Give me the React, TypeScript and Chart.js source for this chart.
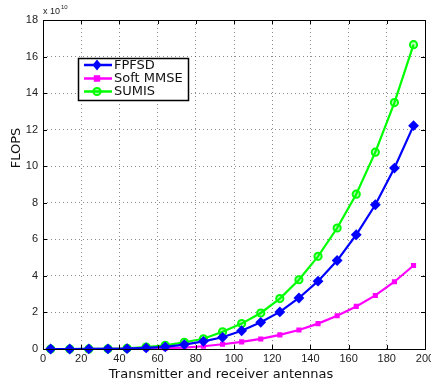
import React, { useEffect, useRef } from "react";
import { Chart, registerables } from "chart.js";

Chart.register(...registerables);

const antennas = [4, 14, 24, 34, 44, 54, 64, 74, 84, 94, 104, 114, 124, 134, 144, 154, 164, 174, 184, 194];
const fpfsd = [0, 0, 0.005, 0.01, 0.02, 0.06, 0.12, 0.24, 0.42, 0.64, 1.0, 1.46, 2.03, 2.79, 3.71, 4.84, 6.25, 7.89, 9.9, 12.22];
const softMmse = [0, 0, 0, 0.005, 0.01, 0.02, 0.04, 0.08, 0.15, 0.26, 0.39, 0.55, 0.77, 1.04, 1.39, 1.82, 2.33, 2.93, 3.68, 4.57];
const sumis = [0, 0, 0.005, 0.01, 0.04, 0.11, 0.2, 0.37, 0.56, 0.94, 1.39, 1.97, 2.76, 3.79, 5.07, 6.62, 8.47, 10.77, 13.48, 16.65];
const seriesNames = ["FPFSD", "Soft MMSE", "SUMIS"];
const xTicks = [0, 20, 40, 60, 80, 100, 120, 140, 160, 180, 200];
const yTicks = [0, 2, 4, 6, 8, 10, 12, 14, 16, 18];
const xTitle = "Transmitter and receiver antennas";
const yTitle = "FLOPS";

const colors = ["#0000ff", "#ff00ff", "#00ff00"];
const pointStyles = ["rectRot", "rect", "circle"];
const pointRadii = [4, 2.2, 3.6];
const fills = ["#0000ff", "#ff00ff", "rgba(0,255,0,0.3)"];

function drawMarker(ctx: CanvasRenderingContext2D, style: string, r: number, x: number, y: number) {
  ctx.beginPath();
  if (style === "rectRot") {
    ctx.moveTo(x, y - r);
    ctx.lineTo(x + r * 0.8, y);
    ctx.lineTo(x, y + r);
    ctx.lineTo(x - r * 0.8, y);
    ctx.closePath();
  } else if (style === "rect") {
    ctx.rect(x - r, y - r, 2 * r, 2 * r);
  } else {
    ctx.arc(x, y, r, 0, Math.PI * 2);
  }
  ctx.fill();
  ctx.stroke();
}

const decorPlugin = {
  id: "decor",
  afterDraw(chart: any) {
    const { ctx, chartArea: a, scales } = chart;
    const xs = scales.x;
    const ys = scales.y;
    ctx.save();
    ctx.strokeStyle = "#000";
    ctx.lineWidth = 1;
    ctx.setLineDash([]);
    ctx.strokeRect(Math.round(a.left) + 0.5, Math.round(a.top) + 0.5, Math.round(a.right - a.left), Math.round(a.bottom - a.top));
    ctx.beginPath();
    xTicks.forEach((v) => {
      const px = Math.round(xs.getPixelForValue(v)) + 0.5;
      ctx.moveTo(px, a.bottom);
      ctx.lineTo(px, a.bottom - 4);
      ctx.moveTo(px, a.top);
      ctx.lineTo(px, a.top + 4);
    });
    yTicks.forEach((v) => {
      const py = Math.round(ys.getPixelForValue(v)) + 0.5;
      ctx.moveTo(a.left, py);
      ctx.lineTo(a.left + 4, py);
      ctx.moveTo(a.right, py);
      ctx.lineTo(a.right - 4, py);
    });
    ctx.stroke();

    ctx.fillStyle = "#222";
    ctx.textBaseline = "alphabetic";
    ctx.textAlign = "left";
    ctx.font = "9px 'Liberation Sans', Arial, sans-serif";
    ctx.fillText("x 10", a.left, 14);
    const w = ctx.measureText("x 10").width;
    ctx.font = "6px 'Liberation Sans', Arial, sans-serif";
    ctx.fillText("10", a.left + w + 1, 9);

    ctx.fillStyle = "#111";
    ctx.font = "13px 'DejaVu Sans', sans-serif";
    ctx.textAlign = "center";
    ctx.textBaseline = "middle";
    ctx.fillText(xTitle, 221, 375);
    ctx.save();
    ctx.translate(17, 148);
    ctx.rotate(-Math.PI / 2);
    ctx.fillText(yTitle, 0, 0);
    ctx.restore();

    const lx = 78, ly = 58, lw = 110, lh = 42;
    ctx.fillStyle = "#fff";
    ctx.fillRect(lx, ly, lw, lh);
    ctx.strokeStyle = "#000";
    ctx.lineWidth = 1.5;
    ctx.strokeRect(lx + 0.5, ly + 0.5, lw, lh);
    const rows = [65, 78.5, 91.5];
    seriesNames.forEach((name, i) => {
      const y = rows[i];
      ctx.strokeStyle = colors[i];
      ctx.lineWidth = 2.5;
      ctx.beginPath();
      ctx.moveTo(84, y);
      ctx.lineTo(112, y);
      ctx.stroke();
      ctx.lineWidth = 2;
      ctx.fillStyle = fills[i];
      ctx.strokeStyle = colors[i];
      drawMarker(ctx, pointStyles[i], pointRadii[i], 97, y);
      ctx.fillStyle = "#111";
      ctx.font = "13px 'DejaVu Sans', sans-serif";
      ctx.textAlign = "left";
      ctx.textBaseline = "middle";
      ctx.fillText(name, 114, y + 0.5);
    });
    ctx.restore();
  },
};

export default function App() {
  const ref = useRef<HTMLCanvasElement | null>(null);
  useEffect(() => {
    document.body.style.margin = "0";
    const datasets = [fpfsd, softMmse, sumis].map((vals, i) => ({
      label: seriesNames[i],
      data: antennas.map((x, j) => ({ x, y: vals[j] })),
      borderColor: colors[i],
      backgroundColor: fills[i],
      borderWidth: 2.2,
      pointStyle: pointStyles[i],
      pointRadius: pointRadii[i],
      pointBorderWidth: 2,
      pointBorderColor: colors[i],
      pointBackgroundColor: fills[i],
      tension: 0,
      clip: false as any,
    }));
    const tickFont = { family: "'Liberation Sans', Arial, sans-serif", size: 11 };
    const chart = new Chart(ref.current!, {
      type: "line",
      data: { datasets },
      plugins: [decorPlugin],
      options: {
        animation: false,
        responsive: false,
        maintainAspectRatio: false,
        layout: { padding: { top: 20, right: 5, left: 0, bottom: 0 } },
        plugins: { legend: { display: false }, tooltip: { enabled: false } },
        scales: {
          x: {
            type: "linear",
            min: 0,
            max: 200,
            afterFit: (s: any) => { s.height = 36; s.paddingLeft = 0; s.paddingRight = 0; },
            afterBuildTicks: (s: any) => { s.ticks = xTicks.map((v) => ({ value: v })); },
            ticks: { font: tickFont, color: "#222", padding: 3, maxRotation: 0, autoSkip: false },
            grid: { color: "rgba(0,0,0,0.45)", drawTicks: false, lineWidth: 1 },
            border: { display: false, dash: [1, 3] },
          },
          y: {
            type: "linear",
            min: 0,
            max: 18,
            afterFit: (s: any) => { s.width = 43; s.paddingTop = 0; s.paddingBottom = 0; },
            afterBuildTicks: (s: any) => { s.ticks = yTicks.map((v) => ({ value: v })); },
            ticks: { font: tickFont, color: "#222", padding: 5, autoSkip: false },
            grid: { color: "rgba(0,0,0,0.45)", drawTicks: false, lineWidth: 1 },
            border: { display: false, dash: [1, 3] },
          },
        },
      },
    });
    return () => chart.destroy();
  }, []);
  return (
    <div style={{ width: 431, height: 385, background: "#fff" }}>
      <canvas ref={ref} width={431} height={385} style={{ display: "block" }} />
    </div>
  );
}
